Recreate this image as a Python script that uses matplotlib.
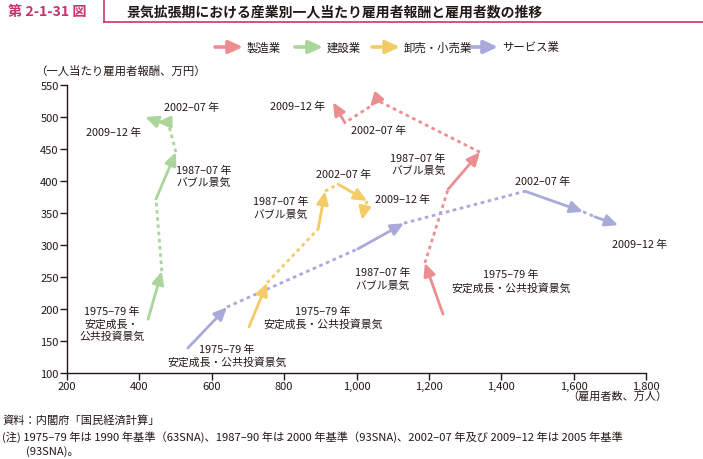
import numpy as np
import matplotlib
matplotlib.use("Agg")
import matplotlib.pyplot as plt
from matplotlib.patches import FancyArrowPatch
from matplotlib.ticker import FuncFormatter

plt.rcParams['font.family'] = ['Noto Sans CJK JP', 'DejaVu Sans']

# =========================================================
# Data: start / end of each boom period (x = employees 万人, y = pay 万円)
# periods: 1975-79, 1987-07, 2002-07, 2009-12
# =========================================================
industries = ["製造業", "建設業", "卸売・小売業", "サービス業"]
colors = ["#EC8E91", "#AAD59B", "#F3CB67", "#A9A9DA"]

manuf_start_x = [1239, 1253, 1054, 968]
manuf_start_y = [192, 387, 527, 491]
manuf_end_x = [1189, 1341, 1037, 935]
manuf_end_y = [272, 445, 516, 523]

constr_start_x = [424, 446, 479, 440]
constr_start_y = [184, 372, 492, 495]
constr_end_x = [462, 501, 449, 416]
constr_end_y = [259, 445, 492, 500]

whole_start_x = [703, 894, 949, 1021]
whole_start_y = [172, 325, 395, 355]
whole_end_x = [753, 913, 1029, 1015]
whole_end_y = [241, 384, 369, 339]

serv_start_x = [534, 1004, 1466, 1659]
serv_start_y = [139, 294, 384, 344]
serv_end_x = [642, 1131, 1626, 1723]
serv_end_y = [203, 334, 352, 331]

series = [
    (manuf_start_x, manuf_start_y, manuf_end_x, manuf_end_y),
    (constr_start_x, constr_start_y, constr_end_x, constr_end_y),
    (whole_start_x, whole_start_y, whole_end_x, whole_end_y),
    (serv_start_x, serv_start_y, serv_end_x, serv_end_y),
]

lbl_7579 = "1975–79 年\n安定成長・公共投資景気"
lbl_8707 = "1987–07 年\nバブル景気"
lbl_0207 = "2002–07 年"
lbl_0912 = "2009–12 年"

head = "-|>,head_length=0.7,head_width=0.32"

# =========================================================
# Figure
# =========================================================
fig = plt.figure(figsize=(7.03, 4.60), dpi=100)
ax = fig.add_axes([67 / 703, 1 - 374 / 460, (646 - 67) / 703, (374 - 86) / 460])

for (sx, sy, ex, ey), c in zip(series, colors):
    for i in range(len(sx)):
        ax.annotate("", xy=(ex[i], ey[i]), xytext=(sx[i], sy[i]),
                    arrowprops=dict(arrowstyle=head, color=c, lw=2.0,
                                    shrinkA=0, shrinkB=0, mutation_scale=11))
        if i < len(sx) - 1:
            ax.plot([ex[i], sx[i + 1]], [ey[i], sy[i + 1]], color=c, lw=2.0,
                    linestyle=(0, (1.3, 1.3)), dash_capstyle="butt")

# period labels
txt_kw = dict(fontsize=7.8, color="#231815", ha="center", va="center",
              linespacing=1.25)
# construction
ax.text(545, 516, lbl_0207, **txt_kw)
ax.text(330, 477, lbl_0912, **txt_kw)
ax.text(578, 408, lbl_8707, **txt_kw)
ax.text(324, 177, "1975–79 年\n安定成長・\n公共投資景気", **txt_kw)
# manufacturing
ax.text(836, 517, lbl_0912, **txt_kw)
ax.text(1062, 480, lbl_0207, **txt_kw)
ax.text(1170, 427, lbl_8707, **txt_kw)
ax.text(1427, 244, lbl_7579, **txt_kw)
# wholesale / retail
ax.text(963, 411, lbl_0207, **txt_kw)
ax.text(1126, 372, lbl_0912, **txt_kw)
ax.text(791, 359, lbl_8707, **txt_kw)
ax.text(907, 187, lbl_7579, **txt_kw)
# services
ax.text(642, 128, lbl_7579, **txt_kw)
ax.text(1073, 248, lbl_8707, **txt_kw)
ax.text(1515, 400, lbl_0207, **txt_kw)
ax.text(1783, 302, lbl_0912, **txt_kw)

ax.set_xlim(200, 1800)
ax.set_ylim(100, 550)
ax.set_xticks(np.arange(200, 1801, 200))
ax.set_yticks(np.arange(100, 551, 50))
ax.xaxis.set_major_formatter(FuncFormatter(lambda v, p: f"{int(v):,}"))
ax.tick_params(direction="out", length=5, width=1, labelsize=8,
               colors="#231815", pad=1)
for s in ["top", "right"]:
    ax.spines[s].set_visible(False)
for s in ["left", "bottom"]:
    ax.spines[s].set_color("#231815")
    ax.spines[s].set_linewidth(1)

# axis captions
fig.text(35 / 703, 1 - 71 / 460, "（一人当たり雇用者報酬、万円）", fontsize=8.2,
         color="#231815", ha="left", va="center")
fig.text(667 / 703, 1 - 397 / 460, "（雇用者数、万人）", fontsize=8,
         color="#231815", ha="right", va="center")

# =========================================================
# Legend (arrows drawn in figure coords)
# =========================================================
leg_arrow_x = [215, 295, 372, 470]
leg_y = 1 - 48 / 460
for name, c, x0 in zip(industries, colors, leg_arrow_x):
    fig.add_artist(FancyArrowPatch((x0 / 703, leg_y), ((x0 + 28) / 703, leg_y),
                                   transform=fig.transFigure,
                                   arrowstyle=head, color=c, lw=2.6,
                                   mutation_scale=12, shrinkA=0, shrinkB=0))
    fig.text((x0 + 32) / 703, leg_y, name, fontsize=8.2, color="#231815",
             ha="left", va="center")

# =========================================================
# Title block
# =========================================================
title_col = "#C8336E"
fig.text(8 / 703, 1 - 12 / 460, "第 2-1-31 図", fontsize=10.2, color=title_col,
         fontweight="bold", ha="left", va="center")
fig.text(127 / 703, 1 - 12 / 460, "景気拡張期における産業別一人当たり雇用者報酬と雇用者数の推移",
         fontsize=10, color="#231815", fontweight="bold", ha="left", va="center")
fig.add_artist(plt.Line2D([104 / 703, 104 / 703], [1, 1 - 23 / 460],
                          transform=fig.transFigure, color=title_col, lw=1.2))
fig.add_artist(plt.Line2D([104 / 703, 1], [1 - 23 / 460, 1 - 23 / 460],
                          transform=fig.transFigure, color=title_col, lw=1.2))

# =========================================================
# Footnotes
# =========================================================
foot_kw = dict(fontsize=8.1, color="#231815", ha="left", va="center")
fig.text(2 / 703, 1 - 421 / 460, "資料：内閣府「国民経済計算」", **foot_kw)
fig.text(2 / 703, 1 - 437 / 460,
         "(注) 1975–79 年は 1990 年基準（63SNA)、1987–90 年は 2000 年基準（93SNA)、"
         "2002–07 年及び 2009–12 年は 2005 年基準", **foot_kw)
fig.text(26 / 703, 1 - 452 / 460, "(93SNA)。", **foot_kw)

fig.savefig("out.png", dpi=100)
